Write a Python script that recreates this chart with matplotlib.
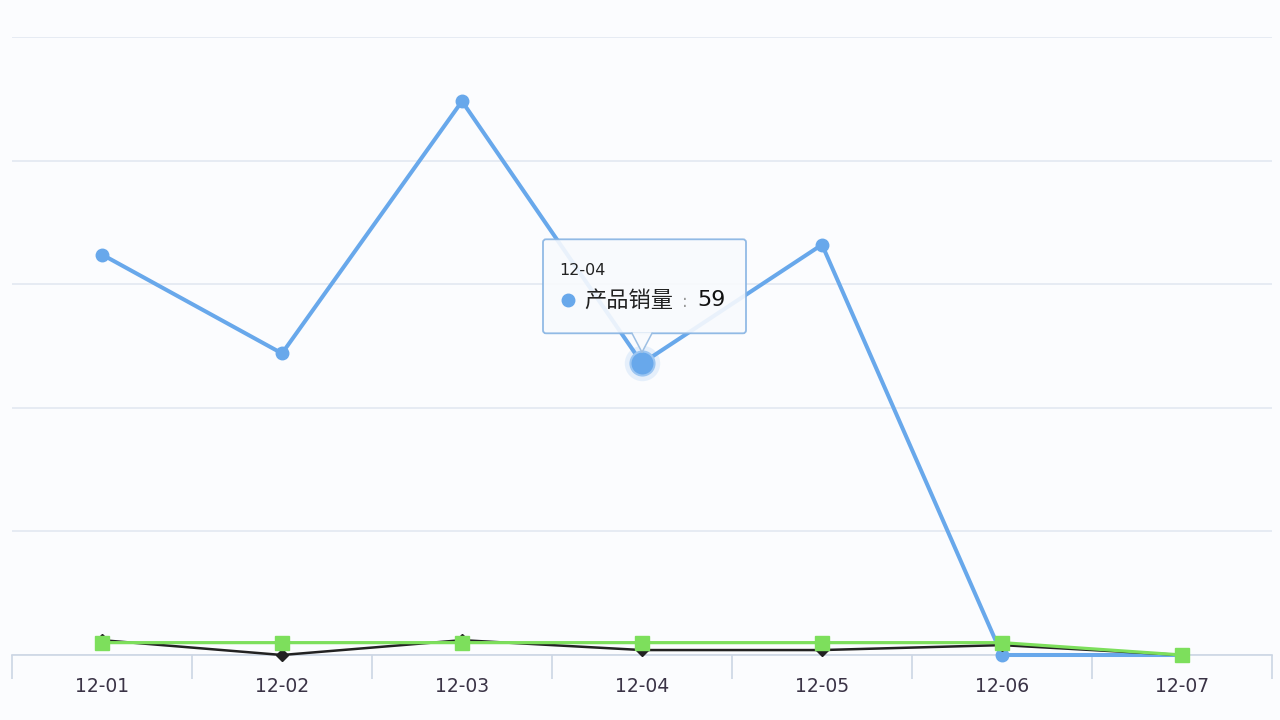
import numpy as np
import matplotlib
matplotlib.use('Agg')
import matplotlib.pyplot as plt
from matplotlib.patches import FancyBboxPatch, Polygon
from matplotlib.transforms import IdentityTransform

plt.rcParams['font.family'] = ['DejaVu Sans', 'Noto Sans CJK SC']

# data
dates = ['12-01', '12-02', '12-03', '12-04', '12-05', '12-06', '12-07']
sales = [81, 61, 112, 59, 83, 0, 0]          # 产品销量 (blue)
series_black = [3, 0, 3, 1, 1, 2, 0]
series_green = [2.5, 2.5, 2.5, 2.5, 2.5, 2.5, 0]
y_ticks = [0, 25, 50, 75, 100, 125]
hover_idx = 3

blue = '#68a8eb'
green = '#7ddf5c'
black = '#222222'
bg = '#fbfcfe'

fig = plt.figure(figsize=(12.8, 7.2), dpi=100, facecolor=bg)
ax = fig.add_axes([12 / 1280, 1 - 655 / 720, 1260 / 1280, (655 - 37) / 720])
ax.set_facecolor(bg)

x = np.arange(len(dates))
ax.plot(x, sales, color=blue, lw=2.9, marker='o', ms=9, zorder=3,
        solid_joinstyle='round', clip_on=False)
ax.plot(x, series_black, color=black, lw=1.8, marker='D', ms=6, zorder=4,
        clip_on=False)
ax.plot(x, series_green, color=green, lw=2.3, marker='s', ms=10.5, zorder=5,
        clip_on=False)

# hovered point with halo
ax.scatter([x[hover_idx]], [sales[hover_idx]], s=650, color=blue, alpha=0.15,
           zorder=6, linewidths=0)
ax.scatter([x[hover_idx]], [sales[hover_idx]], s=300, color=blue, zorder=7,
           edgecolors='#9cc6f2', linewidths=1.5)

ax.set_xlim(-0.5, len(dates) - 0.5)
ax.set_ylim(y_ticks[0], y_ticks[-1])
ax.set_yticks(y_ticks)
ax.set_yticklabels([])
ax.yaxis.grid(True, color='#e2e8f1', lw=1.2)
ax.tick_params(axis='y', length=0)
ax.set_axisbelow(True)

ax.set_xticks(x)
ax.set_xticklabels(dates, fontsize=13.5, color='#3a3346')
ax.set_xticks(np.arange(-0.5, len(dates), 1), minor=True)
ax.tick_params(axis='x', which='major', length=0, pad=16)
ax.tick_params(axis='x', which='minor', length=17, width=1.2, color='#ccd6e4')

for s in ['top', 'right', 'left']:
    ax.spines[s].set_visible(False)
ax.spines['bottom'].set_color('#ccd6e4')
ax.spines['bottom'].set_linewidth(1.2)

# tooltip (pixel offsets from the hovered point)
px, py = ax.transData.transform((x[hover_idx], sales[hover_idx]))
ident = IdentityTransform()
left, right, bottom, top = -99, 104, 30, 124
box = FancyBboxPatch((px + left, py + bottom), right - left, top - bottom,
                     boxstyle='round,pad=0,rounding_size=3', transform=ident,
                     facecolor='#f8fafd', edgecolor='#86b3e3', lw=1.3,
                     alpha=0.9, zorder=10)
fig.patches.append(box)
tri = Polygon([(px - 10, py + bottom + 1), (px, py + 11), (px + 10, py + bottom + 1)],
              closed=True, transform=ident, facecolor='#f8fafd', edgecolor='none',
              alpha=0.95, zorder=11)
fig.patches.append(tri)
fig.lines.append(plt.Line2D([px - 10, px, px + 10], [py + bottom, py + 11, py + bottom],
                            transform=ident, color='#9dbfe3', lw=1.1, zorder=12))

fig.text(px - 83, py + 93, dates[hover_idx], transform=ident, fontsize=11.5,
         color='#222', va='center', ha='left', zorder=13)
fig.lines.append(plt.Line2D([px - 74], [py + 63], transform=ident, marker='o',
                            ms=9, color=blue, lw=0, zorder=13))
fig.text(px - 58, py + 63, '产品销量', transform=ident, fontsize=16,
         color='#222', va='center', ha='left', zorder=13,
         family=['Noto Sans CJK SC', 'DejaVu Sans'])
fig.text(px + 40, py + 61, ':', transform=ident, fontsize=12,
         color='#999', va='center', ha='left', zorder=13)
fig.text(px + 55, py + 63, str(sales[hover_idx]), transform=ident, fontsize=16,
         color='#111', va='center', ha='left', zorder=13)

fig.savefig('out.png', dpi=100, facecolor=bg)
